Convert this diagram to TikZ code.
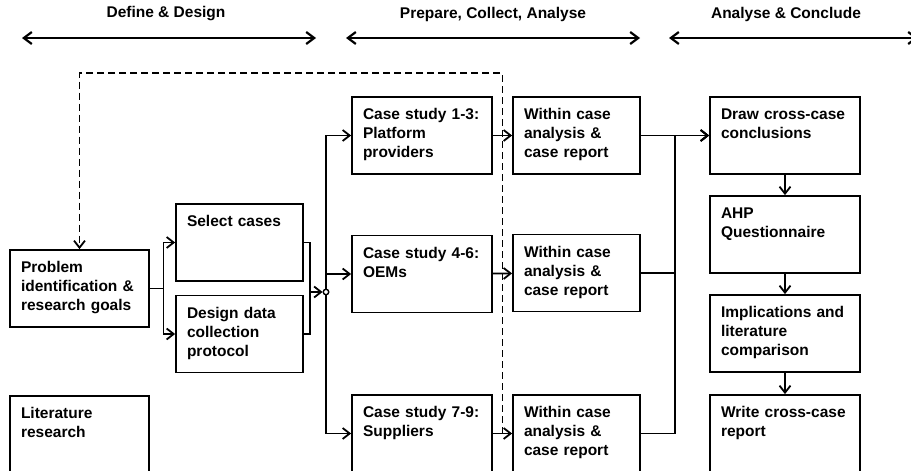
\documentclass[tikz,border=0pt]{standalone}
\usepackage{fontspec}
\setmainfont{Liberation Sans}
\usepackage{tikz}
\usetikzlibrary{arrows.meta,calc}
\tikzset{
  stage box/.style={draw,line width=1.8pt,align=left,font=\fontsize{15.5}{19}\selectfont\bfseries,
    inner xsep=11pt,inner ysep=11pt,text height=11.5pt,text depth=43.5pt},
  flow/.style={-{Straight Barb[length=7pt,width=11pt]},line width=1.8pt},
  feedback/.style={flow,dash pattern=on 7pt off 4pt},
  phase label/.style={font=\fontsize{15.5}{18}\selectfont\bfseries},
  phase arrow/.style={{Straight Barb[length=8pt,width=12pt]}-{Straight Barb[length=8pt,width=12pt]},line width=2.2pt},
  jump dot/.style={circle,draw,line width=1.4pt,inner sep=0pt,minimum size=5.5pt}
}

\begin{document}
\begin{tikzpicture}[x=1pt,y=-1pt]
  \useasboundingbox (0,0) rectangle (911,471);
  % phases
  \node[phase label] (ph1) at (166,14) {Define \& Design};
  \node[phase label] (ph2) at (493,14) {Prepare, Collect, Analyse};
  \node[phase label] (ph3) at (786,14) {Analyse \& Conclude};
  \coordinate (ph1l) at (22,38);  \coordinate (ph1r) at (316,38);
  \coordinate (ph2l) at (346,38); \coordinate (ph2r) at (640,38);
  \coordinate (ph3l) at (669,38); \coordinate (ph3r) at (918,38);
  \draw[phase arrow] (ph1l) -- (ph1r);
  \draw[phase arrow] (ph2l) -- (ph2r);
  \draw[phase arrow] (ph3l) -- (ph3r);
  % define & design
  \node[stage box,text width=117pt] (prob) at (79.5,288.5) {Problem\\identification \&\\research goals};
  \node[stage box,text width=117pt] (lit) at (79.5,434.5) {Literature\\research};
  \node[stage box,text width=105pt] (sel) at (239.5,242.5) {Select cases};
  \node[stage box,text width=105pt] (ddc) at (239.5,334) {Design data\\collection\\protocol};
  % cases
  \node[stage box,text width=118pt] (cs1) at (422,135.5) {Case study 1-3:\\Platform\\providers};
  \node[stage box,text width=118pt] (cs2) at (422,274) {Case study 4-6:\\OEMs};
  \node[stage box,text width=118pt] (cs3) at (422,433.5) {Case study 7-9:\\Suppliers};
  \node[stage box,text width=105pt] (wc1) at (576.5,135.5) {Within case\\analysis \&\\case report};
  \node[stage box,text width=105pt] (wc2) at (576.5,273) {Within case\\analysis \&\\case report};
  \node[stage box,text width=105pt] (wc3) at (576.5,433.5) {Within case\\analysis \&\\case report};
  % conclusions
  \node[stage box,text width=128pt] (dcc) at (785,135.5) {Draw cross-case\\conclusions};
  \node[stage box,text width=128pt] (ahp) at (785,234.5) {AHP\\Questionnaire};
  \node[stage box,text width=128pt] (imp) at (785,333.5) {Implications and\\literature\\comparison};
  \node[stage box,text width=128pt] (wcr) at (785,433.5) {Write cross-case\\report};

  \node[jump dot] (jn) at (326,292) {};
  \coordinate (brk) at ($(sel.east)+(6,0)$);
  \coordinate (fb) at ($(cs3.east)!0.5!(wc3.west)$);

  \draw[flow] (prob.east) -- ++(13.5,0) |- (sel.west);
  \draw[flow] (prob.east) -- ++(13.5,0) |- (ddc.west);
  \draw[line width=1.8pt] (sel.east) -- (brk) |- (ddc.east);
  \draw[flow] (brk |- jn) -- (jn);
  \draw[flow] (jn) |- (cs1);
  \draw[flow] (jn) |- (cs2);
  \draw[flow] (jn) |- (cs3);
  \draw[flow] (cs1) -- (wc1);
  \draw[flow] (cs2) -- (wc2);
  \draw[flow] (cs3) -- (wc3);
  \draw[flow] (wc1) -- (dcc);
  \draw[flow] (wc2.east) -- ++(34,0) |- (dcc.west);
  \draw[flow] (wc3.east) -- ++(34,0) |- (dcc.west);
  \draw[flow] (dcc) -- (ahp);
  \draw[flow] (ahp) -- (imp);
  \draw[flow] (imp) -- (wcr);
  \draw[feedback] (fb) -- (fb |- 0,73) -| (prob.north);
\end{tikzpicture}
\end{document}
